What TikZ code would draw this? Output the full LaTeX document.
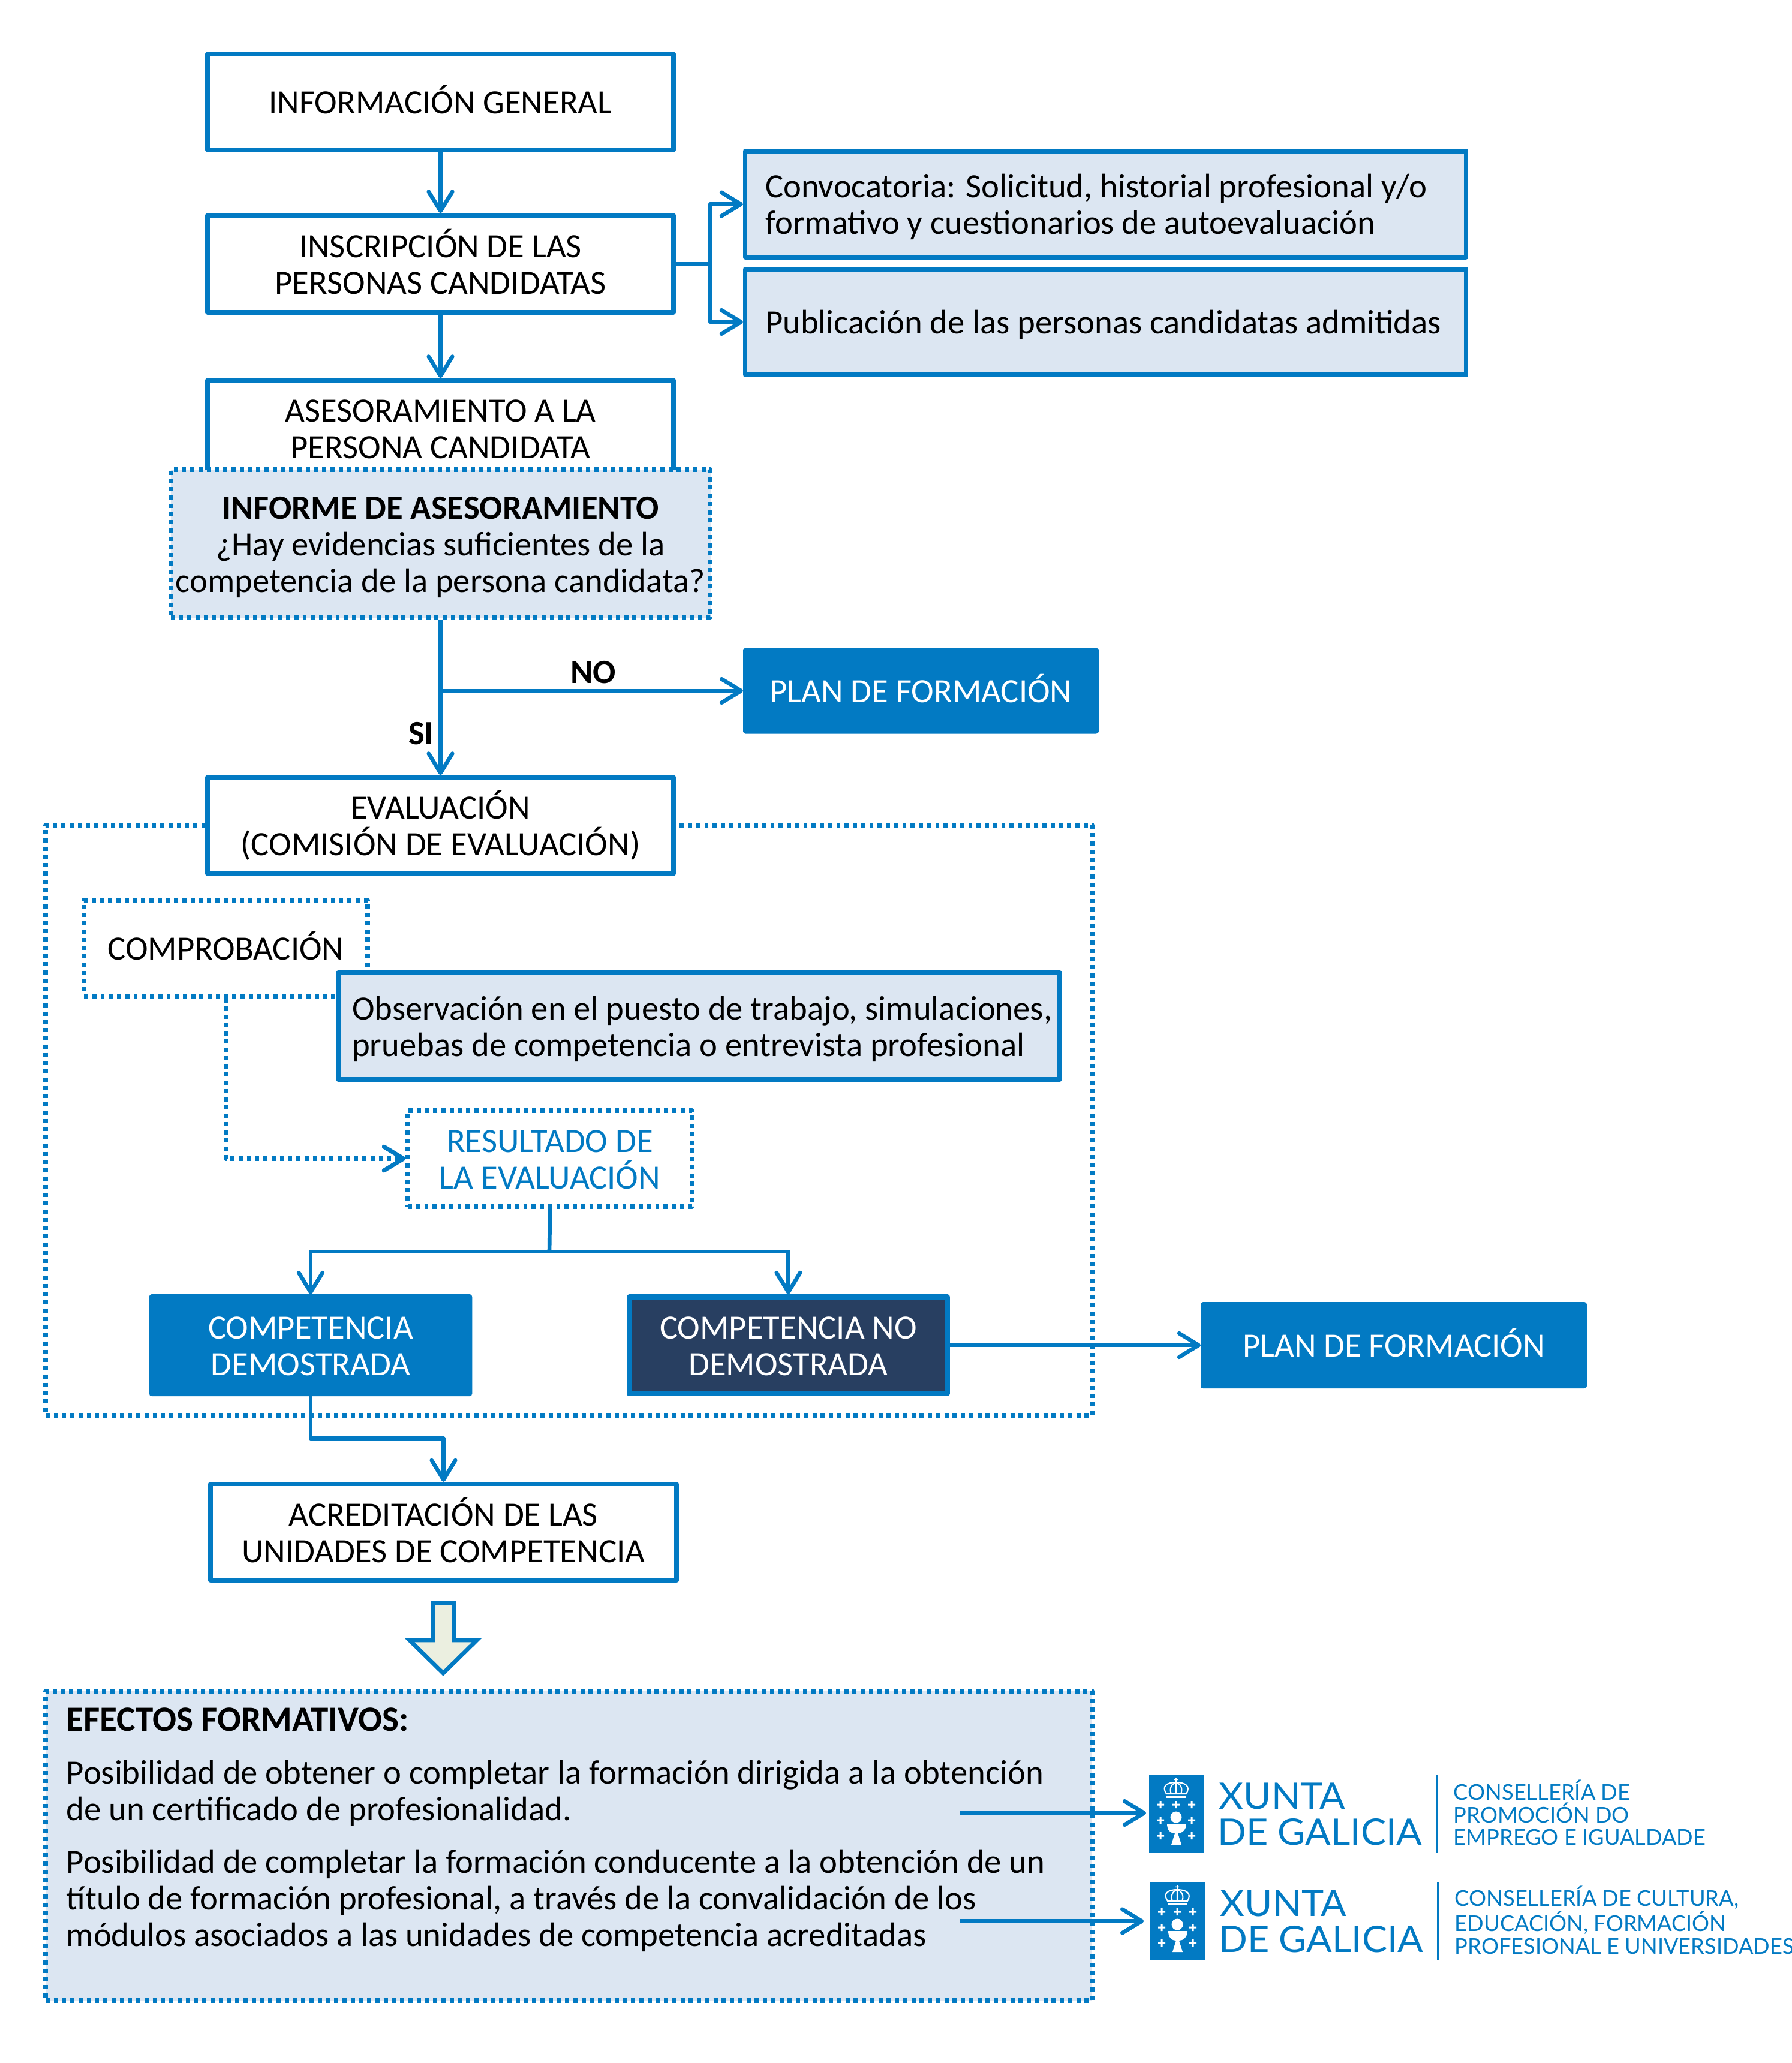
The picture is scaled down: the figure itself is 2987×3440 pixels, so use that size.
\documentclass[tikz,border=0pt]{standalone}
\usepackage{fontspec}
\setmainfont{Carlito}
\newfontfamily\logofont[FakeStretch=1.035]{Lato}
\newfontfamily\deptfont{Lato}
\usetikzlibrary{arrows.meta}
\definecolor{xblue}{HTML}{027AC3}
\definecolor{xlight}{HTML}{DCE6F2}
\definecolor{xdark}{HTML}{283F61}
\definecolor{xpale}{HTML}{EBEFE0}
\newcommand\xstrut{\rule[-6.2pt]{0pt}{21.8pt}}
\newcommand\xfont{\fontsize{13.6}{14.64}\selectfont\lineskiplimit=-100pt\relax}
\tikzset{
  boxsize/.style 2 args={minimum width=#1*0.24pt,minimum height=#2*0.24pt},
  basebox/.style={rectangle,inner sep=0pt,align=center,line width=1.75pt,line join=round,font=\xfont},
  plainbox/.style={basebox,draw=xblue,fill=white},
  lightbox/.style={basebox,draw=xblue,fill=xlight},
  dotbox/.style={basebox,draw=xblue,fill=white,dash pattern=on 1.65pt off 1.65pt},
  dotlight/.style={dotbox,fill=xlight},
  solidbox/.style={basebox,fill=xblue,text=white,rounded corners=1pt,outer sep=0pt},
  conn/.style={draw=xblue,line width=1.6pt,line join=round,-{Straight Barb[length=7.8pt,width=9.5pt,round]}},
  bareline/.style={draw=xblue,line width=1.6pt},
  dotconn/.style={conn,line width=1.7pt,dash pattern=on 1.65pt off 1.65pt},
  bodytext/.style={inner sep=0pt,align=flush left,font=\xfont},
  bold label/.style={inner sep=0pt,font=\xfont\bfseries},
  logocross/.pic={\fill[white] (-1.5,-6) rectangle (1.5,6) (-6,-1.5) rectangle (6,1.5);}
}
\newcommand\xlogo[5]{%
\begin{scope}[shift={(#1,#2)},name prefix=#3-]
  \node[rectangle,fill=xblue,inner sep=0pt,boxsize={91}{129}] (box) at (45.5,64.5) {};
  \foreach \cx/\cy in {19/49,45/49,71/49,19/75,71/75,19/101,71/101} \pic at (\cx,\cy) {logocross};
  \fill[white] (45,70) ellipse [x radius=9.5*0.24pt,y radius=9.5*0.24pt];
  \fill[white] (30,81) -- (62,81) .. controls (62,92) and (54,97) .. (48,97) -- (54,116) -- (37,116) -- (43,97) .. controls (36,97) and (30,92) .. (30,81) -- cycle;
  \draw[white,line width=0.5pt] (29,31) .. controls (20,18) and (30,12) .. (45,12) .. controls (60,12) and (70,18) .. (62,31) -- cycle;
  \draw[white,line width=0.5pt] (37,31) .. controls (33,22) and (38,14) .. (45,12) .. controls (52,14) and (57,22) .. (53,31) (45,12) -- (45,31);
  \fill[white] (29,34) rectangle (62,38);
  \fill[white] (44,4) rectangle (46,11) (42,6.5) rectangle (48,8);
  \node[anchor=base west,inner sep=0pt,text=xblue,font=\logofont\fontsize{14.6}{14.6}\selectfont] (name1) at (116,56) {XUNTA};
  \node[anchor=base west,inner sep=0pt,text=xblue,font=\logofont\fontsize{14.6}{14.6}\selectfont] (name2) at (113.5,116) {DE GALICIA};
  \draw[xblue,line width=0.85pt] (480,0) -- (480,129);
  \node[anchor=west,inner sep=0pt,align=left,text=xblue,font=\deptfont\fontsize{8.7}{9}\selectfont] (dept) at (507,#5) {#4};
\end{scope}}
\begin{document}
\begin{tikzpicture}[x=0.24pt,y=-0.24pt]
\useasboundingbox (0,0) rectangle (2987,3440);
% frames behind everything
\node[dotbox,boxsize={1745}{984}] (frame) at (948.5,1868) {};
\node[dotlight,boxsize={1745}{516}] (efe) at (948.5,3078) {};
% upper chain
\node[plainbox,boxsize={777}{160}] (info) at (734.5,170) {\xstrut INFORMACIÓN GENERAL\xstrut};
\node[plainbox,boxsize={777}{162}] (ins) at (734.5,440) {\xstrut INSCRIPCIÓN DE LAS\\PERSONAS CANDIDATAS\xstrut};
\node[lightbox,boxsize={1202}{177},text width=1135*0.24pt,align=flush left] (conv) at (1843.5,340.5) {\xstrut Convocatoria: Solicitud, historial profesional y/o\\formativo y cuestionarios de autoevaluación\xstrut};
\node[lightbox,boxsize={1202}{176},text width=1135*0.24pt,align=flush left] (pub) at (1843.5,537) {\xstrut\mbox{Publicación de las personas candidatas admitidas}\xstrut};
\node[plainbox,boxsize={777}{160}] (ase) at (734.5,714) {\xstrut ASESORAMIENTO A LA\\PERSONA CANDIDATA\xstrut};
\node[dotlight,boxsize={900}{247}] (inf) at (734.5,906.5) {\xstrut{\bfseries INFORME DE ASESORAMIENTO}\\¿Hay evidencias suficientes de la\\competencia de la persona candidata?\xstrut};
\node[solidbox,boxsize={593}{143}] (plan1) at (1535.5,1152) {\xstrut PLAN DE FORMACIÓN\xstrut};
\node[plainbox,boxsize={777}{161}] (eval) at (734.5,1376.5) {\xstrut EVALUACIÓN\\(COMISIÓN DE EVALUACIÓN)\xstrut};
\node[dotbox,boxsize={473}{160}] (comp) at (376.5,1581) {\xstrut COMPROBACIÓN\xstrut};
\node[lightbox,boxsize={1203}{178},text width=1157*0.24pt,align=flush left] (obs) at (1165.5,1711) {\xstrut\mbox{Observación en el puesto de trabajo, simulaciones,}\\\mbox{pruebas de competencia o entrevista profesional}\xstrut};
\node[dotbox,boxsize={474}{160},text=xblue] (res) at (917,1932) {\xstrut RESULTADO DE\\LA EVALUACIÓN\xstrut};
\node[solidbox,boxsize={538.5}{170}] (dem) at (518,2243) {\xstrut COMPETENCIA\\DEMOSTRADA\xstrut};
\node[basebox,draw=xblue,line width=2.2pt,fill=xdark,text=white,boxsize={530}{161}] (nodem) at (1314.5,2243) {\xstrut COMPETENCIA NO\\DEMOSTRADA\xstrut};
\node[solidbox,boxsize={644}{144}] (plan2) at (2324,2243) {\xstrut PLAN DE FORMACIÓN\xstrut};
\node[plainbox,boxsize={777}{161}] (acr) at (739.5,2555) {\xstrut ACREDITACIÓN DE LAS\\UNIDADES DE COMPETENCIA\xstrut};
% block arrow
\draw[xblue,fill=xpale,line width=1.65pt,miter limit=10] (721.5,2673.5) -- (756.5,2673.5) -- (756.5,2735) -- (795,2735) -- (739,2790) -- (683,2735) -- (721.5,2735) -- cycle;
% effects text
\node[bold label,anchor=base west,font=\fontsize{14.2}{14.64}\selectfont\bfseries] (efT) at (110,2886) {EFECTOS FORMATIVOS:};
\node[bodytext,anchor=west] (ef1) at (110,2985.5) {\xstrut Posibilidad de obtener o completar la formación dirigida a la obtención\\de un certificado de profesionalidad.\xstrut};
\node[bodytext,anchor=west] (ef2) at (110,3164.5) {\xstrut Posibilidad de completar la formación conducente a la obtención de un\\título de formación profesional, a través de la convalidación de los\\módulos asociados a las unidades de competencia acreditadas\xstrut};
% logos
\xlogo{1916}{2960}{A}{CONSELLERÍA DE\\PROMOCIÓN DO\\EMPREGO E IGUALDADE}{62.5}
\xlogo{1918}{3139}{B}{CONSELLERÍA DE CULTURA,\\EDUCACIÓN, FORMACIÓN\\PROFESIONAL E UNIVERSIDADES}{62.5}
% connectors
\coordinate (jct) at (1184,440);
\coordinate (brA) at (inf.south |- plan1.west);
\coordinate (dotel) at (comp.south |- res.west);
\coordinate (split) at (916,2087);
\coordinate (elbow) at (518,2398.6);
\coordinate (fromA) at (1600,3023);
\coordinate (fromB) at (1600,3203.5);
\draw[conn] (info) -- (ins);
\draw[conn] (ins) -- (ase);
\draw[bareline] (ins.east) -- (jct);
\draw[conn] (jct) |- (conv.west);
\draw[conn] (jct) |- (pub.west);
\draw[conn] (inf.south) -- (eval.north);
\draw[conn] (brA) -- (plan1.west);
\node[bold label] (no) at (989,1121) {NO};
\node[bold label] (si) at (702,1223) {SI};
\draw[dotconn] (comp.south) -- (dotel) -- (res.west);
\draw[bareline] (res.south) -- (split);
\draw[conn] (split) -| (dem.north);
\draw[conn] (split) -| (nodem.north);
\draw[conn] (nodem.east) -- (plan2.west);
\draw[conn] (dem.south) -- (elbow) -| (acr.north);
\draw[conn,shorten >=1pt] (fromA) -- (fromA -| A-box.west);
\draw[conn,shorten >=2.4pt] (fromB) -- (fromB -| B-box.west);
\end{tikzpicture}
\end{document}
